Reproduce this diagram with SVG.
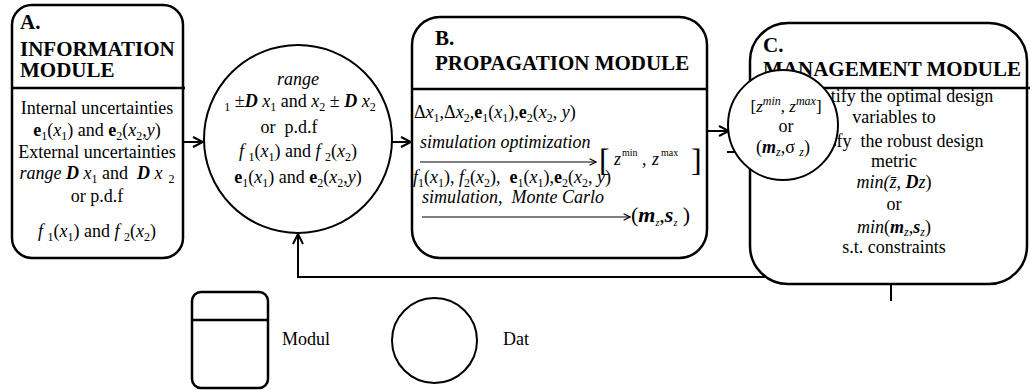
<svg xmlns="http://www.w3.org/2000/svg" width="1030" height="390" viewBox="0 0 1030 390">
<style>
text{font-family:'Liberation Serif','Times New Roman',serif;font-size:18px;fill:#000;white-space:pre}
.h{font-weight:bold;font-size:21px}
.i{font-style:italic}
.b{font-weight:bold}
.bi{font-weight:bold;font-style:italic}
.s{font-size:12px}
.box{fill:#fff;stroke:#000;stroke-width:2.5}
.div{stroke:#000;stroke-width:2.5}
.cir{fill:#fff;stroke:#000;stroke-width:2}
.ln{fill:none;stroke:#000;stroke-width:2}
.thin{fill:none;stroke:#000;stroke-width:1.2}
</style>
<defs>
<marker id="arr" viewBox="0 0 12 12" refX="11" refY="6" markerWidth="12" markerHeight="12" markerUnits="userSpaceOnUse" orient="auto">
<path d="M1,1 L11,6 L1,11" fill="none" stroke="#000" stroke-width="2"/>
</marker>
<marker id="arrs" viewBox="0 0 10 10" refX="9" refY="5" markerWidth="8" markerHeight="8" markerUnits="userSpaceOnUse" orient="auto">
<path d="M1,1 L9,5 L1,9" fill="none" stroke="#000" stroke-width="1.5"/>
</marker>
</defs>

<g id="connectors">
<line class="ln" x1="183" y1="142" x2="203" y2="142" marker-end="url(#arr)"/>
<line class="ln" x1="392" y1="142" x2="411" y2="142" marker-end="url(#arr)"/>
<line class="ln" x1="707" y1="131" x2="729" y2="131" marker-end="url(#arr)"/>
<line class="ln" x1="727" y1="152" x2="745" y2="152"/>
<polyline class="ln" points="1003,277 298,277 298,234" marker-end="url(#arr)"/>
<line class="ln" x1="891" y1="285" x2="891" y2="301"/>
</g>

<g id="moduleA">
<rect class="box" x="12" y="5" width="171" height="253" rx="20"/>
<line class="div" x1="12" y1="88" x2="185" y2="88"/>
<text class="h" x="20" y="29">A.</text>
<text class="h" x="20" y="56">INFORMATION</text>
<text class="h" x="20" y="77">MODULE</text>
<text x="97" y="114" text-anchor="middle">Internal uncertainties</text>
<text x="97" y="136" text-anchor="middle"><tspan class="b">e</tspan><tspan class="s" dy="4">1</tspan><tspan dy="-4">(</tspan><tspan class="i">x</tspan><tspan class="s" dy="4">1</tspan><tspan dy="-4">) and </tspan><tspan class="b">e</tspan><tspan class="s" dy="4">2</tspan><tspan dy="-4">(</tspan><tspan class="i">x</tspan><tspan class="s" dy="4">2</tspan><tspan dy="-4">,</tspan><tspan class="i">y</tspan><tspan>)</tspan></text>
<text x="97" y="158" text-anchor="middle">External uncertainties</text>
<text x="97" y="179" text-anchor="middle"><tspan class="i">range </tspan><tspan class="bi">D</tspan><tspan class="i"> x</tspan><tspan class="s" dy="4">1</tspan><tspan dy="-4"> and  </tspan><tspan class="bi">D</tspan><tspan class="i"> x</tspan><tspan class="s" dy="4">  2</tspan></text>
<text x="97" y="202" text-anchor="middle">or p.d.f</text>
<text x="97" y="237" text-anchor="middle"><tspan class="i">f </tspan><tspan class="s" dy="4">1</tspan><tspan dy="-4">(</tspan><tspan class="i">x</tspan><tspan class="s" dy="4">1</tspan><tspan dy="-4">) and </tspan><tspan class="i">f </tspan><tspan class="s" dy="4">2</tspan><tspan dy="-4">(</tspan><tspan class="i">x</tspan><tspan class="s" dy="4">2</tspan><tspan dy="-4">)</tspan></text>
</g>

<g id="data1">
<circle class="cir" cx="298" cy="139" r="94"/>
<text x="298" y="85" text-anchor="middle" class="i">range</text>
<text x="300" y="107" text-anchor="middle"><tspan class="s" dy="4">1</tspan><tspan dy="-4"> ±</tspan><tspan class="bi">D</tspan><tspan class="i"> x</tspan><tspan class="s" dy="4">1</tspan><tspan dy="-4"> and </tspan><tspan class="i">x</tspan><tspan class="s" dy="4">2</tspan><tspan dy="-4"> ± </tspan><tspan class="bi">D</tspan><tspan class="i"> x</tspan><tspan class="s" dy="4">2</tspan></text>
<text x="289" y="133" text-anchor="middle">or  p.d.f</text>
<text x="298" y="157" text-anchor="middle"><tspan class="i">f </tspan><tspan class="s" dy="4">1</tspan><tspan dy="-4">(</tspan><tspan class="i">x</tspan><tspan class="s" dy="4">1</tspan><tspan dy="-4">) and </tspan><tspan class="i">f </tspan><tspan class="s" dy="4">2</tspan><tspan dy="-4">(</tspan><tspan class="i">x</tspan><tspan class="s" dy="4">2</tspan><tspan dy="-4">)</tspan></text>
<text x="298" y="183" text-anchor="middle"><tspan class="b">e</tspan><tspan class="s" dy="4">1</tspan><tspan dy="-4">(</tspan><tspan class="i">x</tspan><tspan class="s" dy="4">1</tspan><tspan dy="-4">) and </tspan><tspan class="b">e</tspan><tspan class="s" dy="4">2</tspan><tspan dy="-4">(</tspan><tspan class="i">x</tspan><tspan class="s" dy="4">2</tspan><tspan dy="-4">,</tspan><tspan class="i">y</tspan><tspan>)</tspan></text>
</g>

<g id="moduleB">
<rect class="box" x="412" y="17" width="295" height="241" rx="28"/>
<line class="div" x1="412" y1="89" x2="707" y2="89"/>
<text class="h" x="435" y="45">B.</text>
<text class="h" x="435" y="70">PROPAGATION MODULE</text>
<text x="414" y="118">Δ<tspan class="i">x</tspan><tspan class="s" dy="4">1</tspan><tspan dy="-4">,Δ</tspan><tspan class="i">x</tspan><tspan class="s" dy="4">2</tspan><tspan dy="-4">,</tspan><tspan class="b">e</tspan><tspan class="s" dy="4">1</tspan><tspan dy="-4">(</tspan><tspan class="i">x</tspan><tspan class="s" dy="4">1</tspan><tspan dy="-4">),</tspan><tspan class="b">e</tspan><tspan class="s" dy="4">2</tspan><tspan dy="-4">(</tspan><tspan class="i">x</tspan><tspan class="s" dy="4">2</tspan><tspan dy="-4">, </tspan><tspan class="i">y</tspan><tspan>)</tspan></text>
<text x="420" y="148" class="i">simulation optimization</text>
<line class="thin" x1="420" y1="162" x2="596" y2="162" marker-end="url(#arrs)"/>
<text x="599" y="171" style="font-size:32px">[</text>
<text x="614" y="165" class="i">z</text>
<text x="622" y="156" style="font-size:10px">min</text>
<text x="642" y="165">,</text>
<text x="652" y="165" class="i">z</text>
<text x="661" y="156" style="font-size:10px">max</text>
<text x="691" y="171" style="font-size:32px">]</text>
<text x="413" y="183"><tspan class="i">f</tspan><tspan class="s" dy="4">1</tspan><tspan dy="-4">(</tspan><tspan class="i">x</tspan><tspan class="s" dy="4">1</tspan><tspan dy="-4">), </tspan><tspan class="i">f</tspan><tspan class="s" dy="4">2</tspan><tspan dy="-4">(</tspan><tspan class="i">x</tspan><tspan class="s" dy="4">2</tspan><tspan dy="-4">),  </tspan><tspan class="b">e</tspan><tspan class="s" dy="4">1</tspan><tspan dy="-4">(</tspan><tspan class="i">x</tspan><tspan class="s" dy="4">1</tspan><tspan dy="-4">),</tspan><tspan class="b">e</tspan><tspan class="s" dy="4">2</tspan><tspan dy="-4">(</tspan><tspan class="i">x</tspan><tspan class="s" dy="4">2</tspan><tspan dy="-4">, </tspan><tspan class="i">y</tspan><tspan>)</tspan></text>
<text x="422" y="203" class="i">simulation,  Monte Carlo</text>
<line class="thin" x1="422" y1="217" x2="630" y2="217" marker-end="url(#arrs)"/>
<text x="631" y="222" style="font-size:22px">(<tspan class="bi">m</tspan><tspan style="font-size:10px" class="i" dy="4">z</tspan><tspan dy="-4">,</tspan><tspan class="bi">s</tspan><tspan style="font-size:10px" class="i" dy="4">z</tspan><tspan dy="-4"> )</tspan></text>
</g>

<g id="moduleC">
<rect class="box" x="750" y="23" width="277" height="261" rx="38"/>
<line class="div" x1="750" y1="88" x2="1030" y2="88"/>
<text class="h" x="763" y="52">C.</text>
<text class="h" x="763" y="76">MANAGEMENT MODULE</text>
<text x="896" y="102" text-anchor="middle">Identify the optimal design</text>
<text x="894" y="123" text-anchor="middle">variables to</text>
<text x="894" y="147" text-anchor="middle">satisfy  the robust design</text>
<text x="894" y="167" text-anchor="middle">metric</text>
<text x="894" y="188" text-anchor="middle"><tspan class="i">min(z̄, </tspan><tspan class="bi">D</tspan><tspan class="i">z</tspan><tspan>)</tspan></text>
<text x="894" y="210" text-anchor="middle">or</text>
<text x="894" y="233" text-anchor="middle"><tspan class="i">min</tspan><tspan>(</tspan><tspan class="bi">m</tspan><tspan class="s i" dy="3">z</tspan><tspan dy="-3">,</tspan><tspan class="bi">s</tspan><tspan class="s i" dy="3">z</tspan><tspan dy="-3">)</tspan></text>
<text x="894" y="253" text-anchor="middle">s.t. constraints</text>
</g>

<g id="data2">
<circle class="cir" cx="783" cy="125" r="55"/>
<text x="786" y="112" text-anchor="middle" style="font-size:17px">[<tspan class="i">z</tspan><tspan class="s i" dy="-7">min</tspan><tspan dy="7">, </tspan><tspan class="i">z</tspan><tspan class="s i" dy="-7">max</tspan><tspan dy="7">]</tspan></text>
<text x="786" y="132" text-anchor="middle">or</text>
<text x="783" y="153" text-anchor="middle">(<tspan class="bi">m</tspan><tspan class="s i" dy="3">z</tspan><tspan dy="-3">,σ </tspan><tspan class="s i" dy="3">z</tspan><tspan dy="-3">)</tspan></text>
</g>

<g id="legend-module">
<rect class="box" x="192" y="292" width="76" height="96" rx="9"/>
<line class="div" x1="192" y1="320" x2="268" y2="320"/>
<text x="282" y="345">Modul</text>
</g>
<g id="legend-data">
<circle class="cir" cx="434.5" cy="340.5" r="42.5"/>
<text x="503" y="345">Dat</text>
</g>
</svg>
